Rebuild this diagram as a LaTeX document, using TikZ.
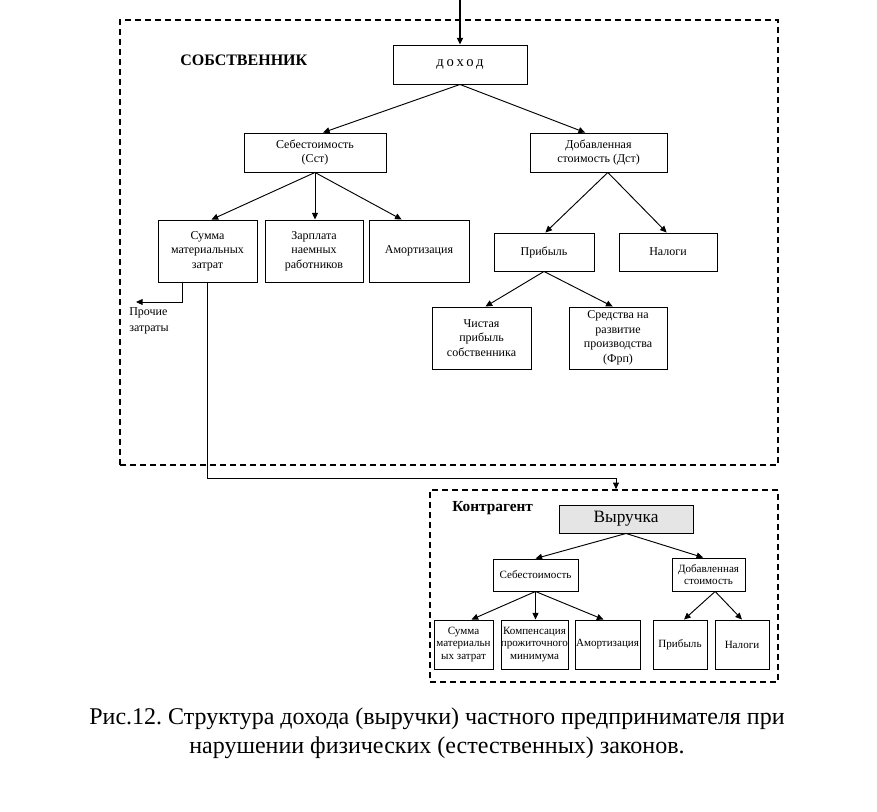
\documentclass[tikz,border=0pt]{standalone}
\usepackage{fontspec}
\setmainfont{Liberation Serif}
\usetikzlibrary{arrows.meta,fit}
\frenchspacing
\tikzset{
  box/.style={draw, line width=0.7pt, inner sep=0pt},
  t/.style={label={[align=center, inner sep=0pt, font=\fontsize{9}{10.9}\selectfont]center:{#1}}},
  ts/.style={label={[align=center, inner sep=0pt, font=\fontsize{8.3}{9.6}\selectfont]center:{#1}}},
  arr/.style={-{Triangle[length=5pt,width=4.5pt]}, line width=0.7pt},
  dashbox/.style={draw, dash pattern=on 4.5pt off 3pt, line width=1.2pt, inner sep=0pt},
  lbl/.style={inner sep=0pt, font=\fontsize{9}{12}\selectfont, align=left}
}
\begin{document}
\begin{tikzpicture}[x=0.75pt,y=-0.75pt]
\useasboundingbox (0,0) rectangle (877,811);
% containers
\node[dashbox, fit={(120,20) (778,465)}] (owner) {};
\node[dashbox, fit={(430,490) (778,682)}] (kontr) {};
% owner part
\node[inner sep=0pt, anchor=west, font=\bfseries\fontsize{12}{14}\selectfont] (ownlbl) at (180,60) {СОБСТВЕННИК};
\node[box, fit={(393,45) (527,84)}, label={[inner sep=0pt, font=\fontsize{11}{12}\selectfont]center:{\addfontfeatures{LetterSpace=20}доход}}] (dohod) {};
\node[box, fit={(244,133) (386,172)}, t={Себестоимость\\(Сст)}] (seb) {};
\node[box, fit={(530,133) (667,172)}, t={Добавленная\\стоимость (Дст)}] (dob) {};
\node[box, fit={(158,220) (257,282)}, t={Сумма\\материальных\\затрат}] (summa) {};
\node[box, fit={(265,220) (363,282)}, t={Зарплата\\наемных\\работников}] (zarp) {};
\node[box, fit={(369,220) (469,282)}, t={Амортизация}] (amort) {};
\node[box, fit={(494,233) (594,271)}, t={Прибыль}] (prib) {};
\node[box, fit={(619,233) (717,271)}, t={Налоги}] (nalog) {};
\node[box, fit={(432,307) (531,369)}, t={Чистая\\прибыль\\собственника}] (chist) {};
\node[box, fit={(569,307) (667,369)}, t={Средства на\\развитие\\производства\\(Фрп)}] (sredst) {};
\node[lbl, anchor=north west] (proch) at (129,307) {Прочие\\затраты};
\coordinate (src) at (460,0);
\coordinate (prochtip) at (136,302);
\coordinate (bend) at (616,478);
% contragent part
\node[inner sep=0pt, anchor=west, font=\bfseries\fontsize{11.5}{14}\selectfont] (klbl) at (452,508) {Контрагент};
\node[box, fit={(559,505) (693,533)}, fill=black!10, label={[inner sep=0pt, font=\fontsize{13}{15}\selectfont]center:Выручка}] (vyr) {};
\node[box, fit={(493,559) (578,591)}, ts={Себестоимость}] (seb2) {};
\node[box, fit={(672,558) (745,591)}, ts={Добавленная\\стоимость}] (dob2) {};
\node[box, fit={(434,620) (493,669)}, ts={Сумма\\материальн\\ых затрат}] (summa2) {};
\node[box, fit={(501,620) (568,669)}, ts={Компенсация\\прожиточного\\минимума}] (komp) {};
\node[box, fit={(575,620) (640,669)}, ts={Амортизация}] (amort2) {};
\node[box, fit={(653,620) (707,669)}, ts={Прибыль}] (prib2) {};
\node[box, fit={(715,620) (769,669)}, ts={Налоги}] (nalog2) {};
% caption
\node[inner sep=0pt, align=center, font=\fontsize{18}{21.75}\selectfont] (cap) at (437,733) {Рис.12. Структура дохода (выручки) частного предпринимателя при\\нарушении физических (естественных) законов.};
% connectors owner
\draw[arr, line width=1.2pt] (src) -- (dohod.north);
\draw[arr] (dohod.south) -- ([xshift=6pt]seb.north);
\draw[arr] (dohod.south) -- ([xshift=-10pt]dob.north);
\draw[arr] (seb.south) -- ([xshift=3pt]summa.north);
\draw[arr] (seb.south) -- (seb.south |- zarp.north);
\draw[arr] (seb.south) -- ([xshift=-13pt]amort.north);
\draw[arr] ([xshift=7pt]dob.south) -- ([xshift=1pt]prib.north);
\draw[arr] ([xshift=7pt]dob.south) -- ([xshift=-1pt]nalog.north);
\draw[arr] (prib.south) -- ([xshift=3pt]chist.north);
\draw[arr] (prib.south) -- ([xshift=-4pt]sredst.north);
\draw[arr] ([xshift=-19pt]summa.south) |- (prochtip);
\draw[arr] (summa.south) |- (bend) -- (bend |- kontr.north);
% connectors contragent
\draw[arr] (vyr.south) -- (seb2.north);
\draw[arr] (vyr.south) -- ([xshift=-4pt]dob2.north);
\draw[arr] (seb2.south) -- ([xshift=6pt]summa2.north);
\draw[arr] (seb2.south) -- (seb2.south |- komp.north);
\draw[arr] (seb2.south) -- ([xshift=-3pt]amort2.north);
\draw[arr] ([xshift=5pt]dob2.south) -- ([xshift=3pt]prib2.north);
\draw[arr] ([xshift=5pt]dob2.south) -- (nalog2.north);
\end{tikzpicture}
\end{document}
